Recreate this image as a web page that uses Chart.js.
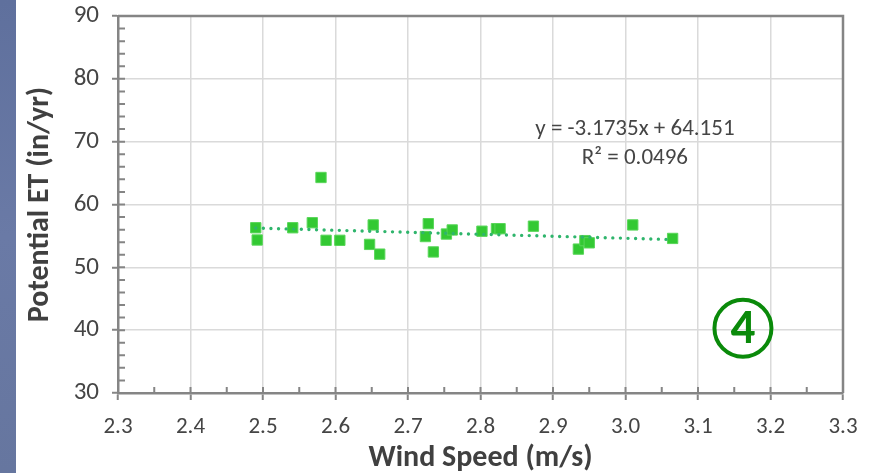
<!DOCTYPE html>
<html>
<head>
<meta charset="utf-8">
<script src="https://cdn.jsdelivr.net/npm/chart.js@4.4.0/dist/chart.umd.min.js"></script>
<style>
    html, body { margin: 0; padding: 0; background: #fff; }
    #wrap { position: relative; width: 873px; height: 473px; }
    #strip { position: absolute; left: 0; top: 0; width: 16px; height: 473px;
             background: linear-gradient(#5f709d, #6a7aa6 50%, #66769f); }
    canvas { position: absolute; left: 0; top: 0; }
</style>
</head>
<body>
<div id="wrap">
    <div id="strip"></div>
    <canvas id="etChart" width="873" height="473"></canvas>
</div>
<script>
// wind speed (m/s) vs potential ET (in/yr)
const windSpeed = [2.490, 2.492, 2.541, 2.568, 2.580, 2.587, 2.606, 2.647, 2.652, 2.661, 2.724, 2.728,
                   2.735, 2.753, 2.761, 2.802, 2.822, 2.827, 2.873, 2.935, 2.944, 2.950, 3.010, 3.065];
const potentialET = [56.3, 54.35, 56.3, 57.1, 64.3, 54.3, 54.3, 53.65, 56.75, 52.1, 54.9, 56.95,
                     52.45, 55.3, 55.95, 55.75, 56.15, 56.15, 56.55, 52.9, 54.25, 53.9, 56.75, 54.6];

// linear trendline end points
const trendX = [2.490, 3.065];
const trendY = [56.25, 54.42];

const xTicks = [2.3, 2.4, 2.5, 2.6, 2.7, 2.8, 2.9, 3.0, 3.1, 3.2, 3.3];
const yTicks = [30, 40, 50, 60, 70, 80, 90];

const eqLines = ['y = -3.1735x + 64.151', 'R\u00b2 = 0.0496'];
const eqAt = { x: 3.013, y: 71.9 };
const badgeText = '4';
const badgeAt = { x: 3.162, y: 40.3 };

const axisGray = '#858585';
const textGray = '#454545';
const fontFamily = 'Carlito, "Liberation Sans Narrow", "Liberation Sans", sans-serif';

const pointData = windSpeed.map((x, i) => ({ x: x, y: potentialET[i] }));
const trendData = trendX.map((x, i) => ({ x: x, y: trendY[i] }));

// minor ticks, top/right frame, trend equation and the circled label
const extrasPlugin = {
    id: 'extras',
    afterDraw(chart) {
        const ctx = chart.ctx;
        const a = chart.chartArea;
        const xs = chart.scales.x, ys = chart.scales.y;
        ctx.save();
        ctx.strokeStyle = axisGray;
        ctx.lineWidth = 2;
        ctx.beginPath();
        // y: minor every 2, inner part of the majors
        for (let v = yTicks[0]; v <= yTicks[yTicks.length - 1]; v += 2) {
            const py = ys.getPixelForValue(v);
            ctx.moveTo(a.left, py);
            ctx.lineTo(a.left + 7, py);
        }
        // x: minor halfway, inner part of the majors
        for (let i = 0; i < xTicks.length; i++) {
            const px = xs.getPixelForValue(xTicks[i]);
            ctx.moveTo(px, a.bottom);
            ctx.lineTo(px, a.bottom - 6);
            if (i < xTicks.length - 1) {
                const pm = xs.getPixelForValue((xTicks[i] + xTicks[i + 1]) / 2);
                ctx.moveTo(pm, a.bottom);
                ctx.lineTo(pm, a.bottom - 6);
            }
        }
        ctx.stroke();

        // frame top and right
        ctx.lineWidth = 2.5;
        ctx.beginPath();
        ctx.moveTo(a.left, a.top);
        ctx.lineTo(a.right, a.top);
        ctx.lineTo(a.right, a.bottom);
        ctx.stroke();

        // equation
        ctx.fillStyle = textGray;
        ctx.font = '23px ' + fontFamily;
        ctx.textAlign = 'center';
        ctx.textBaseline = 'middle';
        const ex = xs.getPixelForValue(eqAt.x);
        const ey = ys.getPixelForValue(eqAt.y);
        ctx.fillText(eqLines[0], ex, ey);
        ctx.fillText(eqLines[1], ex, ey + 29);

        // circled number
        const bx = xs.getPixelForValue(badgeAt.x);
        const by = ys.getPixelForValue(badgeAt.y);
        ctx.strokeStyle = '#0a8a0a';
        ctx.lineWidth = 4;
        ctx.beginPath();
        ctx.arc(bx, by, 28.5, 0, Math.PI * 2);
        ctx.stroke();
        ctx.fillStyle = '#0a8a0a';
        ctx.font = 'bold 49px ' + fontFamily;
        ctx.fillText(badgeText, bx, by + 2);
        ctx.restore();
    }
};

const ctx = document.getElementById('etChart').getContext('2d');
const etChart = new Chart(ctx, {
    type: 'scatter',
    data: {
        datasets: [{
            label: 'Trend',
            data: trendData,
            showLine: true,
            borderColor: '#2fb56c',
            borderWidth: 3.4,
            borderDash: [0, 7.6],
            borderCapStyle: 'round',
            pointRadius: 0,
            fill: false,
            order: 0
        }, {
            label: 'Potential ET',
            data: pointData,
            pointStyle: 'rect',
            pointRadius: 7.3,
            backgroundColor: '#33c933',
            borderColor: '#5ad65a',
            borderWidth: 1,
            order: 1
        }]
    },
    options: {
        responsive: false,
        animation: false,
        layout: {
            padding: { left: 0, top: 16, right: 30, bottom: 0 }
        },
        plugins: {
            legend: { display: false },
            tooltip: { enabled: false }
        },
        scales: {
            x: {
                type: 'linear',
                min: 2.3,
                max: 3.3,
                afterFit: function (scale) {
                    scale.height = 80;
                    scale.paddingLeft = 0;
                    scale.paddingRight = 0;
                },
                afterBuildTicks: function (scale) {
                    scale.ticks = xTicks.map(v => ({ value: v }));
                },
                ticks: {
                    padding: 13,
                    color: textGray,
                    font: { family: fontFamily, size: 23 },
                    callback: function (value) { return value.toFixed(1); }
                },
                grid: {
                    color: '#dadada',
                    lineWidth: 1.5,
                    tickColor: axisGray,
                    tickWidth: 2,
                    tickLength: 7
                },
                border: { color: axisGray, width: 2.5 },
                title: {
                    display: true,
                    text: 'Wind Speed (m/s)',
                    color: '#404040',
                    font: { family: fontFamily, size: 30, weight: 'bold', lineHeight: 1.0 },
                    padding: { top: 0, bottom: 0 }
                }
            },
            y: {
                min: 30,
                max: 90,
                afterFit: function (scale) {
                    scale.width = 118;
                    scale.paddingTop = 0;
                    scale.paddingBottom = 0;
                },
                afterBuildTicks: function (scale) {
                    scale.ticks = yTicks.map(v => ({ value: v }));
                },
                ticks: {
                    padding: 13,
                    color: textGray,
                    font: { family: fontFamily, size: 25 }
                },
                grid: {
                    color: '#dadada',
                    lineWidth: 1.5,
                    tickColor: axisGray,
                    tickWidth: 2,
                    tickLength: 6
                },
                border: { color: axisGray, width: 2.5 },
                title: {
                    display: true,
                    text: 'Potential ET (in/yr)',
                    color: '#404040',
                    font: { family: fontFamily, size: 30, weight: 'bold' },
                    padding: { top: 22, bottom: 0 }
                }
            }
        }
    },
    plugins: [extrasPlugin]
});
</script>
</body>
</html>
